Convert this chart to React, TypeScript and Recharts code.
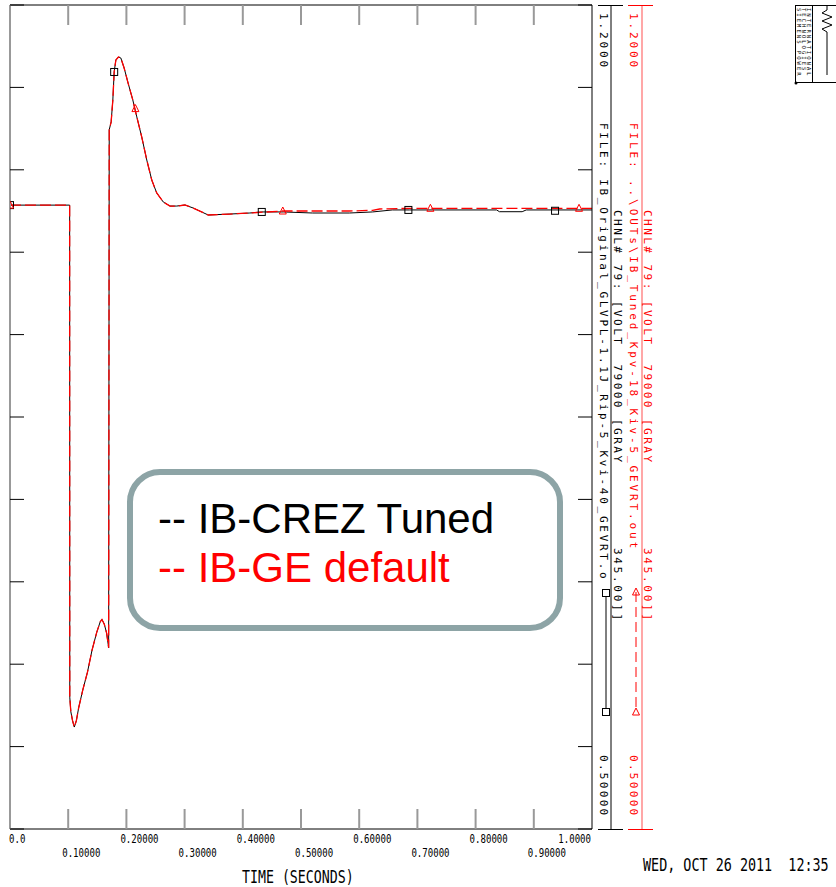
import React from 'react';
import { ComposedChart, Line, Scatter, XAxis, YAxis } from 'recharts';

// time axis (seconds)
const timeTicks = [0, 0.1, 0.2, 0.3, 0.4, 0.5, 0.6, 0.7, 0.8, 0.9, 1.0];
const timeTickLabels = ['0.0', '0.10000', '0.20000', '0.30000', '0.40000', '0.50000', '0.60000', '0.70000', '0.80000', '0.90000', '1.0000'];
const voltTicks = [0.5, 0.57, 0.64, 0.71, 0.78, 0.85, 0.92, 0.99, 1.06, 1.13, 1.2];

// fault transient, both runs overlap here
const transientTime = [0, 0.1025, 0.1027, 0.1045, 0.1075, 0.1105, 0.114, 0.118, 0.125, 0.133, 0.141, 0.149, 0.155, 0.158, 0.162, 0.166, 0.1695, 0.1705, 0.1738, 0.1767, 0.179, 0.1819, 0.1863, 0.1904, 0.1961, 0.2029, 0.211, 0.2179, 0.2264, 0.235, 0.2436, 0.2521, 0.2635, 0.2749, 0.2864, 0.3006, 0.3149, 0.3406, 0.3778];
const transientVolt = [1.03, 1.03, 0.612, 0.5997, 0.592, 0.5866, 0.592, 0.603, 0.618, 0.633, 0.652, 0.667, 0.676, 0.678, 0.674, 0.6665, 0.654, 1.094, 1.1007, 1.1193, 1.1431, 1.1533, 1.1558, 1.155, 1.1465, 1.1337, 1.1193, 1.1049, 1.0878, 1.0683, 1.0513, 1.0403, 1.0326, 1.0292, 1.0292, 1.0301, 1.0275, 1.0216, 1.0224];

// IB-CREZ Tuned (black) tail
const tunedTailTime = [0.412, 0.4326, 0.47, 0.52, 0.583, 0.623, 0.657, 0.686, 0.836, 0.841, 0.88, 0.887, 1.0];
const tunedTailVolt = [1.0233, 1.0242, 1.0242, 1.0233, 1.0233, 1.0242, 1.0259, 1.0259, 1.0259, 1.0244, 1.0244, 1.0259, 1.0259];

// IB-GE default (red) tail
const defaultTailTime = [0.412, 0.4687, 0.583, 0.623, 0.635, 0.686, 1.0];
const defaultTailVolt = [1.0233, 1.025, 1.025, 1.0256, 1.0267, 1.0273, 1.0273];

// curve symbols
const tunedMarkTime = [0, 0.179, 0.4326, 0.6845, 0.9365];
const tunedMarkVolt = [1.03, 1.1431, 1.0242, 1.0259, 1.0252];
const defaultMarkTime = [0, 0.2155, 0.4687, 0.7223, 0.9777];
const defaultMarkVolt = [1.03, 1.112, 1.025, 1.0273, 1.0273];

const zip = (t: number[], v: number[]) => t.map((x, i) => ({ t: x, v: v[i] }));

const tunedData = zip([...transientTime, ...tunedTailTime], [...transientVolt, ...tunedTailVolt]);
const defaultData = zip([...transientTime, ...defaultTailTime], [...transientVolt, ...defaultTailVolt]);
const tunedMarks = zip(tunedMarkTime, tunedMarkVolt);
const defaultMarks = zip(defaultMarkTime, defaultMarkVolt);

const MONO = '"DejaVu Sans Mono", monospace';
const TICK_GRAY = '#999';

// bottom axis: inward tick + staggered label
function BottomTick(props: any) {
  const { x, y, payload } = props;
  const i = timeTicks.indexOf(payload.value);
  const label = timeTickLabels[i] ?? '';
  const odd = i % 2 === 1;
  const last = i === timeTicks.length - 1;
  let tx = x - 6;
  if (i === 0) tx = x - 1;
  if (last) tx = x - 1;
  return (
    <g>
      {i > 0 && !last && <line x1={x} y1={y - 20} x2={x} y2={y} stroke={TICK_GRAY} strokeWidth={2} />}
      <text x={tx} y={y + 14 + (odd ? 14 : 0)} textAnchor={last ? 'end' : 'start'} fontFamily={MONO} fontSize={13}
        textLength={label.length * 5.45} lengthAdjust="spacingAndGlyphs" fill="#000">
        {label}
      </text>
    </g>
  );
}

function TopTick(props: any) {
  const { x, y, payload } = props;
  if (payload.value <= 0 || payload.value >= 1) return <g />;
  return <line x1={x} y1={y} x2={x} y2={y + 20} stroke={TICK_GRAY} strokeWidth={2} />;
}

function LeftTick(props: any) {
  const { x, y } = props;
  return <line x1={x} y1={y} x2={x + 14} y2={y} stroke="#000" strokeWidth={1} />;
}

function RightTick(props: any) {
  const { x, y } = props;
  return <line x1={x - 14} y1={y} x2={x} y2={y} stroke="#000" strokeWidth={1} />;
}

const Square = (p: any) => (
  <rect x={p.cx - 3.5} y={p.cy - 3.5} width={7} height={7} fill="none" stroke="#000" strokeWidth={1} />
);
const Triangle = (p: any) => (
  <polygon points={`${p.cx},${p.cy - 4} ${p.cx - 3.5},${p.cy + 3} ${p.cx + 3.5},${p.cy + 3}`} fill="none" stroke="#ff0000" strokeWidth={1} />
);

function VText({ x, y, text, color, pitch, size = 11 }: { x: number; y: number; text: string; color: string; pitch: number; size?: number }) {
  return (
    <text x={x} y={y} transform={`rotate(90 ${x} ${y})`} fill={color} fontFamily={MONO} fontSize={size}
      textLength={text.length * pitch} lengthAdjust="spacing" style={{ whiteSpace: 'pre' }}>
      {text}
    </text>
  );
}

function SidePanel() {
  const red = '#ff0000';
  return (
    <svg width={836} height={887} style={{ position: 'absolute', left: 0, top: 0, pointerEvents: 'none' }}>
      {/* legend box */}
      <rect x={130} y={472} width={430} height={156} rx={30} fill="#fff" stroke="#8da4a6" strokeWidth={6} />
      <text x={158} y={533} fontFamily="Liberation Sans, Arial, sans-serif" fontSize={42} fill="#000">-- IB-CREZ Tuned</text>
      <text x={158} y={582} fontFamily="Liberation Sans, Arial, sans-serif" fontSize={42} fill={red}>-- IB-GE default</text>

      {/* black channel scale */}
      <line x1={611} y1={5} x2={611} y2={829} stroke="#000" strokeWidth={1} />
      <line x1={598} y1={5.5} x2={623} y2={5.5} stroke="#000" />
      <line x1={598} y1={829.5} x2={623} y2={829.5} stroke="#000" />
      <VText x={600} y={13} text="1.2000" color="#000" pitch={9} />
      <VText x={600} y={123} text="FILE: IB_Original_GLVPL-1.1J_Rip-5_Kvi-40_GEVRT.o" color="#000" pitch={9.3} />
      <VText x={600} y={755} text="0.50000" color="#000" pitch={8.6} />
      <VText x={613.5} y={210} text="CHNL# 79: [VOLT  79000 [GRAY" color="#000" pitch={9} />
      <VText x={613.5} y={548} text="345.00]]" color="#000" pitch={9} />
      <line x1={606} y1={593} x2={606} y2={712} stroke="#000" />
      <rect x={602.5} y={589.5} width={7} height={7} fill="#fff" stroke="#000" />
      <rect x={602.5} y={708.5} width={7} height={7} fill="#fff" stroke="#000" />

      {/* red channel scale */}
      <line x1={642} y1={5} x2={642} y2={829} stroke="#ff8a8a" strokeWidth={1.5} />
      <line x1={628} y1={5.5} x2={653} y2={5.5} stroke={red} />
      <line x1={628} y1={829.5} x2={653} y2={829.5} stroke={red} />
      <VText x={630} y={13} text="1.2000" color={red} pitch={9} />
      <VText x={630} y={123} text="FILE: ..\OUTs\IB_Tuned_Kpv-18_Kiv-5_GEVRT.out" color={red} pitch={9.45} />
      <VText x={630} y={755} text="0.50000" color={red} pitch={8.6} />
      <VText x={643.5} y={210} text="CHNL# 79: [VOLT  79000 [GRAY" color={red} pitch={9} />
      <VText x={643.5} y={548} text="345.00]]" color={red} pitch={9} />
      <line x1={636} y1={592} x2={636} y2={712} stroke={red} strokeDasharray="10 5" />
      <polygon points="636,588 632.5,595 639.5,595" fill="none" stroke={red} />
      <polygon points="636,708 632.5,715 639.5,715" fill="none" stroke={red} />

      {/* logo block */}
      <rect x={795.5} y={5.5} width={60} height={77} fill="none" stroke="#000" />
      <line x1={812.5} y1={5.5} x2={812.5} y2={82.5} stroke="#000" />
      <VText x={797} y={8} text="SIEMENS POWER" color="#000" pitch={5.2} size={5.5} />
      <VText x={802} y={8} text="TECHNOLOGIES" color="#000" pitch={5.2} size={5.5} />
      <VText x={807} y={8} text="INTERNATIONAL" color="#000" pitch={5.2} size={5.5} />
      <polyline points="827,6 827,10 822,13 832,17 822,21 832,25 822,29 827,32 827,75" fill="none" stroke="#000" />
      <circle cx={796} cy={83} r={1.5} fill="#000" />

      {/* axis title and date */}
      <text transform="translate(242 883) scale(0.78 1)" fontFamily={MONO} fontSize={17} style={{ whiteSpace: 'pre' }}>TIME (SECONDS)</text>
      <text transform="translate(643 871) scale(0.79 1)" fontFamily={MONO} fontSize={17} style={{ whiteSpace: 'pre' }}>WED, OCT 26 2011  12:35</text>
    </svg>
  );
}

export default function App() {
  return (
    <div style={{ position: 'absolute', left: 0, top: 0, width: 836, height: 887, background: '#fff' }}>
      <ComposedChart width={836} height={887} margin={{ top: 4, right: 243, bottom: 0, left: 9 }}>
        <XAxis xAxisId="b" type="number" dataKey="t" domain={[0, 1]} ticks={timeTicks} interval={0}
          orientation="bottom" height={58} tickSize={0} tickMargin={0} tickLine={false} allowDataOverflow
          axisLine={{ stroke: '#000', strokeWidth: 1 }} tick={<BottomTick />} />
        <XAxis xAxisId="t" type="number" dataKey="t" domain={[0, 1]} ticks={timeTicks} interval={0}
          orientation="top" height={1} tickSize={0} tickMargin={0} tickLine={false} allowDataOverflow
          axisLine={{ stroke: '#000', strokeWidth: 1 }} tick={<TopTick />} />
        <YAxis yAxisId="l" type="number" dataKey="v" domain={[0.5, 1.2]} ticks={voltTicks} interval={0}
          width={1} tickSize={0} tickMargin={0} tickLine={false} allowDataOverflow
          axisLine={{ stroke: TICK_GRAY, strokeWidth: 2 }} tick={<LeftTick />} />
        <YAxis yAxisId="r" orientation="right" type="number" domain={[0.5, 1.2]} ticks={voltTicks} interval={0}
          width={1} tickSize={0} tickMargin={0} tickLine={false} allowDataOverflow
          axisLine={{ stroke: '#000', strokeWidth: 1 }} tick={<RightTick />} />
        <Line xAxisId="b" yAxisId="l" data={tunedData} dataKey="v" type="linear" stroke="#000"
          strokeWidth={1} dot={false} activeDot={false} isAnimationActive={false} />
        <Line xAxisId="b" yAxisId="l" data={defaultData} dataKey="v" type="linear" stroke="#ff0000"
          strokeWidth={1.3} strokeDasharray="11 4" dot={false} activeDot={false} isAnimationActive={false} />
        <Scatter xAxisId="b" yAxisId="l" data={tunedMarks} dataKey="v" shape={Square} isAnimationActive={false} />
        <Scatter xAxisId="b" yAxisId="l" data={defaultMarks} dataKey="v" shape={Triangle} isAnimationActive={false} />
      </ComposedChart>
      <SidePanel />
    </div>
  );
}
